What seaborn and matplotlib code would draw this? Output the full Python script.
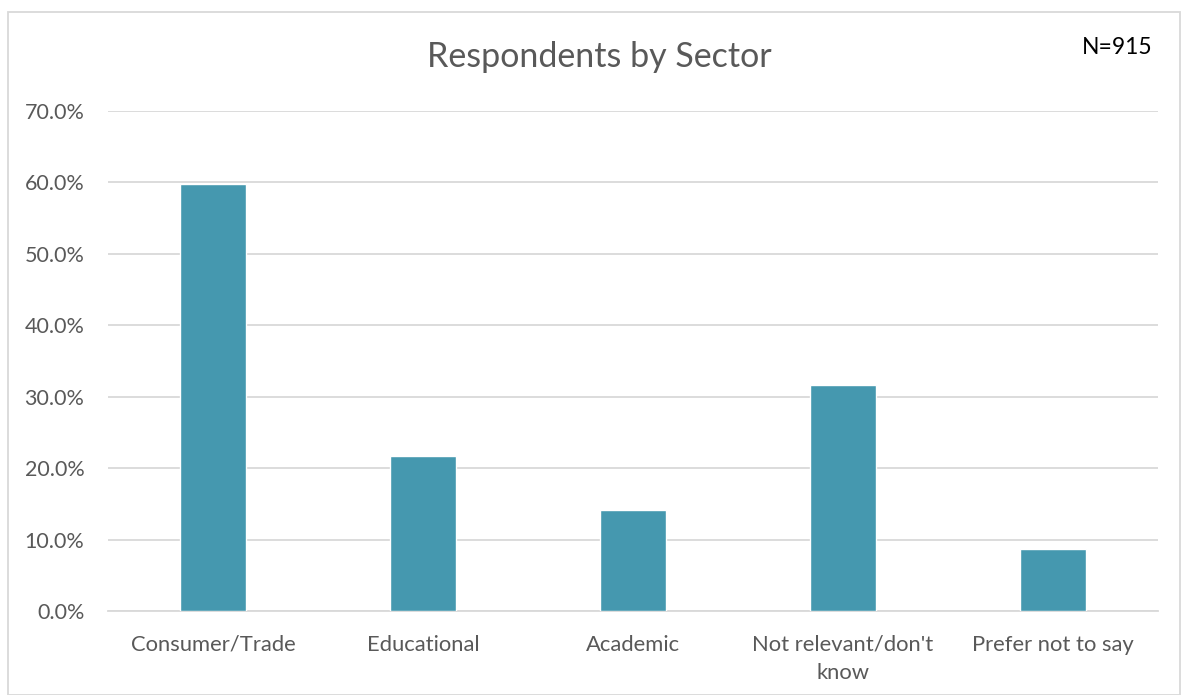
import matplotlib
matplotlib.use("Agg")
import matplotlib.pyplot as plt
import seaborn as sns
import pandas as pd
from matplotlib.ticker import PercentFormatter
from matplotlib.patches import Rectangle

categories = ["Consumer/Trade", "Educational", "Academic", "Not relevant/don't\nknow", "Prefer not to say"]
values = [59.8, 21.7, 14.2, 31.7, 8.7]
yticks = [0, 10, 20, 30, 40, 50, 60, 70]

sns.set_theme(style="white")
plt.rcParams['font.family'] = ['Lato', 'DejaVu Sans']

df = pd.DataFrame({"Sector": categories, "Percent": values})

fig = plt.figure(figsize=(11.82, 6.95), dpi=100)
ax = fig.add_axes([108/1182, 84/695, 1050/1182, 500/695])

sns.barplot(data=df, x="Sector", y="Percent", color="#4598AF", width=0.314,
            saturation=1, ax=ax, zorder=3)

ax.set_ylim(0, 70)
ax.set_xlim(-0.5, len(categories) - 0.5)
ax.set_yticks(yticks)
ax.yaxis.set_major_formatter(PercentFormatter(decimals=1))
ax.grid(axis="y", color="#D9D9D9", linewidth=1.3, zorder=0)
ax.set_axisbelow(True)
for s in ["top", "right", "left"]:
    ax.spines[s].set_visible(False)
ax.spines["bottom"].set_color("#D9D9D9")
ax.spines["bottom"].set_linewidth(1.3)
ax.tick_params(axis="y", length=0, labelsize=15.5, labelcolor="#595959", pad=17)
ax.tick_params(axis="x", length=0, labelsize=15.8, labelcolor="#595959", pad=17)
for lbl in ax.get_xticklabels():
    lbl.set_linespacing(1.5)
ax.set_xlabel("")
ax.set_ylabel("")

fig.text(599/1182, 1 - 57/695, "Respondents by Sector", ha="center", va="center",
         fontsize=24.5, color="#595959")
fig.text(1117/1182, 1 - 47/695, "N=915", ha="center", va="center",
         fontsize=16.5, color="#000000")

fig.patches.append(Rectangle((8/1182, 0), 1172/1182, 1 - 12/695, transform=fig.transFigure,
                             fill=False, edgecolor="#D9D9D9", linewidth=1.3))

fig.savefig("out.png", dpi=100)
